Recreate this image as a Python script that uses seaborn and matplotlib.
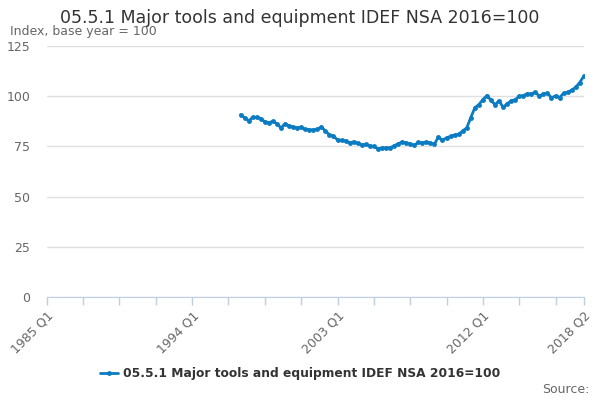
import matplotlib
matplotlib.use('Agg')
import matplotlib.pyplot as plt
import pandas as pd
import seaborn as sns

# quarterly index values, 1997 Q1 to 2018 Q2
index_values = [
    90.8, 89.3, 87.7, 89.5, 89.5, 88.8, 87.3, 86.8, 87.5, 86.3,
    84.2, 86.3, 85.2, 84.7, 84.2, 84.5, 83.5, 83.3, 83.2, 83.5,
    84.7, 82.7, 80.8, 80.2, 78.2, 78.0, 77.7, 76.8, 77.3, 76.5,
    75.8, 76.0, 75.3, 75.0, 73.8, 74.2, 74.3, 74.3, 75.3, 76.3,
    77.2, 76.8, 76.3, 75.5, 77.0, 76.7, 77.2, 76.7, 76.2, 79.7,
    78.0, 79.3, 80.0, 80.7, 81.0, 82.7, 84.2, 89.3, 94.2, 95.8,
    98.3, 100.3, 98.0, 95.8, 97.7, 94.5, 96.2, 97.7, 98.2, 100.0,
    100.3, 101.2, 101.2, 102.0, 100.0, 101.2, 101.5, 99.2, 100.2, 99.3,
    101.5, 102.0, 103.0, 104.5, 106.8, 110.0,
]

axis_quarters = pd.period_range('1985Q1', '2018Q2', freq='Q')
data_quarters = pd.period_range('1997Q1', '2018Q2', freq='Q')
tick_labels = ['1985 Q1', '1994 Q1', '2003 Q1', '2012 Q1', '2018 Q2']
y_ticks = [0, 25, 50, 75, 100, 125]

label = '05.5.1 Major tools and equipment IDEF NSA 2016=100'
df = pd.DataFrame({
    'pos': [axis_quarters.get_loc(q) for q in data_quarters],
    'value': index_values,
})

sns.set_style('white')
plt.rcParams['font.family'] = ['DejaVu Sans']

fig = plt.figure(figsize=(6, 4), dpi=100)
ax = fig.add_axes([0.078, 0.2575, 0.895, 0.6275])

blue = '#0b7cc2'
sns.lineplot(data=df, x='pos', y='value', ax=ax, color=blue, linewidth=2,
             marker='o', markersize=3.5, markeredgewidth=0, label=label)

n = len(axis_quarters) - 1
ax.set_xlim(0, n)
ax.set_ylim(0, 125)
ax.set_yticks(y_ticks)
ax.set_yticklabels([str(v) for v in y_ticks], color='#666666', fontsize=9)
ax.yaxis.grid(True, color='#e0e0e0', linewidth=1)
ax.tick_params(axis='y', length=0, pad=12)

minor = list(range(0, n, 9)) + [n]
ax.set_xticks(minor, minor=True)
major = [axis_quarters.get_loc(pd.Period(t.replace(' ', ''), freq='Q')) for t in tick_labels]
ax.set_xticks(major)
ax.set_xticklabels(tick_labels, rotation=45, ha='right', rotation_mode='anchor',
                   color='#666666', fontsize=9)
ax.tick_params(axis='x', which='both', bottom=True, length=6, color='#c0cfe0',
               width=1, pad=3)
ax.set_xlabel('')
ax.set_ylabel('')

for side in ['top', 'right', 'left']:
    ax.spines[side].set_visible(False)
ax.spines['bottom'].set_color('#c0cfe0')
ax.set_axisbelow(True)

fig.text(0.5, 0.955, label, ha='center', va='center', fontsize=12.5, color='#333333')
fig.text(0.017, 0.92, 'Index, base year = 100', ha='left', va='center',
         fontsize=9, color='#666666')
fig.text(0.982, 0.027, 'Source:', ha='right', va='center', fontsize=9, color='#666666')

leg = ax.legend(loc='center', bbox_to_anchor=(0.4715, -0.305), frameon=False,
                fontsize=8.8, handlelength=1.5, handletextpad=0.4)
for t in leg.get_texts():
    t.set_fontweight('bold')
    t.set_color('#333333')

fig.savefig('out.png', dpi=100)
